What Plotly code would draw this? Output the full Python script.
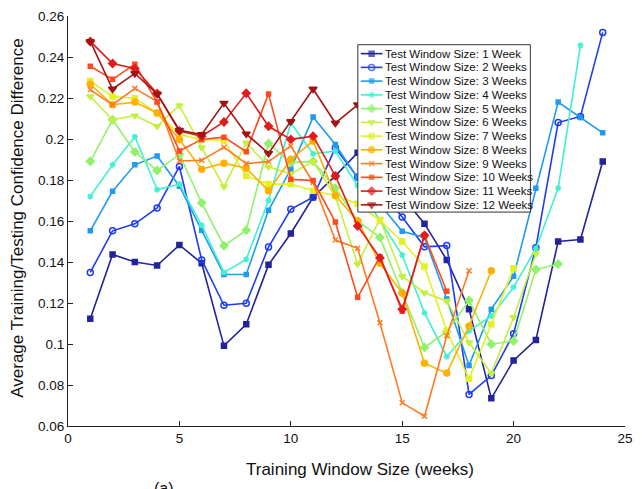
import plotly.graph_objects as go

x_ticks = [0, 5, 10, 15, 20, 25]
y_ticks = [0.06, 0.08, 0.10, 0.12, 0.14, 0.16, 0.18, 0.20, 0.22, 0.24, 0.26]
y_tick_labels = ["0.06", "0.08", "0.1", "0.12", "0.14", "0.16", "0.18", "0.2", "0.22", "0.24", "0.26"]

names = ["Test Window Size: 1 Week"] + [f"Test Window Size: {k} Weeks" for k in range(2, 13)]

s1 = [0.1123, 0.1437, 0.140, 0.1383, 0.1483, 0.1394, 0.0991, 0.1096, 0.1386, 0.1539, 0.1716, 0.182,
      0.1933, 0.188, 0.172, 0.1587, 0.141, 0.117, 0.0735, 0.092, 0.102, 0.150, 0.151, 0.189]
s2 = [0.1349, 0.1552, 0.1586, 0.1664, 0.1866, 0.141, 0.1189, 0.1199, 0.1473, 0.1657, 0.1716, 0.1957,
      0.1813, 0.175, 0.162, 0.1474, 0.148, 0.0754, 0.0846, 0.105, 0.147, 0.208, 0.211, 0.252]
s3 = [0.1552, 0.1745, 0.1874, 0.1917, 0.177, 0.1555, 0.1339, 0.1339, 0.1652, 0.1853, 0.2107, 0.1973,
      0.181, 0.168, 0.155, 0.152, 0.122, 0.0895, 0.117, 0.133, 0.176, 0.218, 0.2105, 0.203]
s4 = [0.172, 0.1874, 0.2011, 0.1753, 0.178, 0.1579, 0.1349, 0.1413, 0.170, 0.2078, 0.1928, 0.1941,
      0.1772, 0.16, 0.1434, 0.1152, 0.0938, 0.1064, 0.1136, 0.1277, 0.1466, 0.176, 0.2457]
s5 = [0.1891, 0.2094, 0.1937, 0.1846, 0.1925, 0.1688, 0.1479, 0.1555, 0.1978, 0.1885, 0.1891, 0.176,
      0.16, 0.152, 0.125, 0.0983, 0.106, 0.1212, 0.0999, 0.1015, 0.1363, 0.139]
s6 = [0.2207, 0.2094, 0.2114, 0.2062, 0.2164, 0.1958, 0.1768, 0.1982, 0.1864, 0.183, 0.189, 0.172,
      0.139, 0.161, 0.133, 0.125, 0.121, 0.1007, 0.0856, 0.1131, 0.144]
s7 = [0.2283, 0.2207, 0.2199, 0.2127, 0.2022, 0.1998, 0.1993, 0.182, 0.178, 0.178, 0.1748, 0.1724,
      0.1684, 0.1603, 0.15, 0.1378, 0.1064, 0.083, 0.1096, 0.137]
s8 = [0.2267, 0.2167, 0.218, 0.2127, 0.1998, 0.1853, 0.1882, 0.1857, 0.1748, 0.1901, 0.199, 0.1724,
      0.16, 0.1394, 0.1249, 0.0906, 0.0858, 0.1088, 0.1357]
s9 = [0.224, 0.2167, 0.2247, 0.2183, 0.1893, 0.1896, 0.196, 0.188, 0.189, 0.1966, 0.1788, 0.1507,
      0.1467, 0.1104, 0.0713, 0.0648, 0.104, 0.1357]
s10 = [0.2355, 0.2291, 0.2365, 0.218, 0.1942, 0.1998, 0.2009, 0.1938, 0.222, 0.1804, 0.1797, 0.1595,
       0.1228, 0.1426, 0.116, 0.153, 0.1257]
s11 = [0.2476, 0.2368, 0.2344, 0.2222, 0.2039, 0.2014, 0.2083, 0.2223, 0.2062, 0.1998, 0.2014, 0.182,
       0.1576, 0.142, 0.117, 0.153]
s12 = [0.2476, 0.2244, 0.232, 0.222, 0.2043, 0.2022, 0.2175, 0.2025, 0.193, 0.2085, 0.2244, 0.2078,
       0.2167, 0.205, 0.19]

series = [s1, s2, s3, s4, s5, s6, s7, s8, s9, s10, s11, s12]

colors = ["#23239a", "#1f3cf2", "#1e9bf0", "#3ff0d4", "#8ff26a", "#c2f03c",
          "#e2f024", "#ffb000", "#ff7a22", "#ff4a1e", "#e01c1c", "#a01414"]
symbols = ["square", "circle-open", "square", "asterisk", "diamond", "triangle-down",
           "square", "circle", "x-thin", "square", "diamond", "triangle-down"]
sizes = [5, 6, 4, 5, 6, 6, 5, 6, 5, 4, 6, 7]

FONT = "Liberation Sans, Arial, sans-serif"

# plot area geometry (pixels) used to place the hand-built legend
L, R, T, B = 68, 633, 12, 426
def px(xp):
    return (xp - L) / (R - L)
def py(yp):
    return (B - yp) / (B - T)

fig = go.Figure()
for name, vals, c, sym, sz in zip(names, series, colors, symbols, sizes):
    xs = list(range(1, len(vals) + 1))
    fig.add_trace(go.Scatter(
        x=xs, y=vals, mode="lines+markers", name=name, showlegend=False,
        line=dict(color=c, width=1.6),
        marker=dict(symbol=sym, size=sz, color=c, line=dict(color=c, width=1.5)),
    ))

# legend drawn on an overlay subplot so that its rows can be as compact as the original
box_l, box_r, box_t, box_b = 362, 537, 41, 210
fig.add_trace(go.Scatter(
    x=[px(box_l), px(box_r), px(box_r), px(box_l), px(box_l)],
    y=[py(box_t), py(box_t), py(box_b), py(box_b), py(box_t)],
    xaxis="x2", yaxis="y2", mode="lines", fill="toself", fillcolor="white",
    line=dict(color="#333", width=1), hoverinfo="skip", showlegend=False,
))
annotations = []
row0, row_step = 50.0, 13.88
for i, (name, c, sym, sz) in enumerate(zip(names, colors, symbols, sizes)):
    yr = row0 + i * row_step
    fig.add_trace(go.Scatter(
        x=[px(365), px(376), px(387)], y=[py(yr)] * 3,
        xaxis="x2", yaxis="y2", mode="lines+markers",
        line=dict(color=c, width=1.6),
        marker=dict(symbol=sym, size=[0, sz, 0], color=c, line=dict(color=c, width=1.5)),
        hoverinfo="skip", showlegend=False,
    ))
    annotations.append(dict(
        text=name, xref="paper", yref="paper", x=px(388), y=py(yr),
        xanchor="left", yanchor="middle", showarrow=False,
        font=dict(family=FONT, size=11.5, color="#111"),
    ))

axis_font = dict(family=FONT, size=13.5, color="#111")

annotations += [
    dict(text="Training Window Size (weeks)", xref="paper", yref="paper",
         x=px(364), y=py(470), xanchor="center", yanchor="middle", showarrow=False,
         font=dict(family=FONT, size=17, color="#111")),
    dict(text="Average Training/Testing Confidence Difference", xref="paper", yref="paper",
         x=px(16), y=py(216), xanchor="center", yanchor="middle", textangle=-90, showarrow=False,
         font=dict(family=FONT, size=17, color="#111")),
    dict(text="(a)", xref="paper", yref="paper",
         x=px(165), y=py(479), xanchor="center", yanchor="top", showarrow=False,
         font=dict(family=FONT, size=16, color="#111")),
]

fig.update_layout(
    width=642, height=489,
    margin=dict(l=L, r=642 - R, t=T, b=489 - B),
    paper_bgcolor="white", plot_bgcolor="white",
    showlegend=False,
    xaxis=dict(
        range=[0, 25], tickvals=x_ticks, ticks="inside", ticklen=5, tickcolor="#222",
        showline=True, linecolor="#222", linewidth=1, mirror=False,
        showgrid=False, zeroline=False, tickfont=axis_font,
    ),
    yaxis=dict(
        range=[0.06, 0.26], tickvals=y_ticks, ticktext=y_tick_labels, ticks="inside",
        ticklen=5, tickcolor="#222", showline=True, linecolor="#222", linewidth=1,
        mirror=False, showgrid=False, zeroline=False, tickfont=axis_font,
    ),
    xaxis2=dict(overlaying="x", anchor="y2", range=[0, 1], visible=False, fixedrange=True),
    yaxis2=dict(overlaying="y", anchor="x2", range=[0, 1], visible=False, fixedrange=True),
    annotations=annotations,
)

fig.write_html("out.html")
